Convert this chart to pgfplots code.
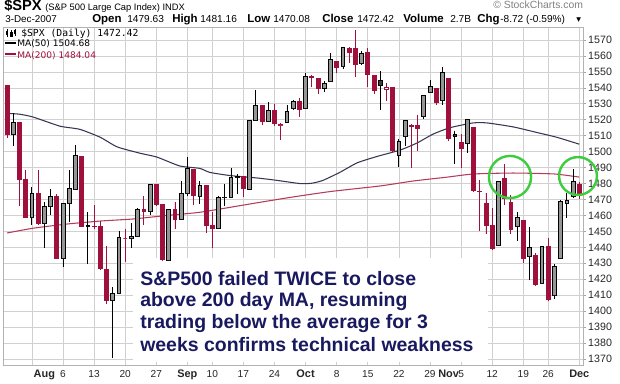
\documentclass[border=0pt]{standalone}
\usepackage{fontspec}
\setmainfont{Liberation Sans}
\newfontfamily\vfont{DejaVu Sans}
\newfontfamily\mfont{DejaVu Sans Mono}
\usepackage{pgfplots}
\usepackage{pgfplotstable}
\usepgfplotslibrary{statistics}
\pgfplotsset{compat=1.18}
\definecolor{cred}{RGB}{160,16,60}
\definecolor{ma50c}{RGB}{55,55,85}
\definecolor{ma200c}{RGB}{180,60,90}
\definecolor{navytext}{RGB}{25,25,95}
\definecolor{gridc}{RGB}{208,208,208}
\definecolor{hollowc}{RGB}{150,150,150}
\definecolor{cgreen}{RGB}{60,205,60}
\newcommand\pxy[2]{({(#1)*0.75pt},{(383-(#2))*0.75pt})}
\pgfplotsset{
 candlebase/.style={line width=0.6pt, boxplot/draw direction=y, boxplot/every median/.style={draw=none}, boxplot/box extend=0.62, boxplot/whisker extend=0},
 candle1/.style={candlebase, draw=black, fill=hollowc},
 candle2/.style={candlebase, draw=black, fill=black!75},
 candle3/.style={candlebase, draw=cred, fill=cred},
 candle4/.style={candlebase, draw=cred, fill=white},
}
% i O H L C S  (S: 1 up hollow, 2 up filled, 3 down filled, 4 down hollow)
\pgfplotstableread{
i O H L C S
0 1541.57 1541.57 1508.62 1511.04 3
1 1511.03 1524.31 1503.73 1518.09 1
2 1518.09 1518.09 1465.81 1482.66 3
3 1482.44 1488.53 1458.95 1458.95 3
4 1458.93 1477.88 1454.32 1473.91 1
5 1473.90 1488.30 1454.25 1455.27 3
6 1455.18 1468.38 1439.59 1465.81 1
7 1465.46 1476.43 1460.58 1472.20 1
8 1472.18 1473.23 1432.80 1433.06 3
9 1433.04 1467.67 1427.39 1467.67 1
10 1467.62 1488.30 1455.80 1476.71 1
11 1476.22 1503.89 1476.22 1497.49 1
12 1497.21 1497.21 1453.09 1453.09 3
13 1453.09 1462.02 1429.74 1453.64 1
14 1453.42 1466.29 1451.54 1452.92 3
15 1452.87 1456.74 1426.20 1426.54 3
16 1426.15 1440.78 1404.36 1406.70 3
17 1406.64 1415.12 1370.60 1411.27 1
18 1411.26 1450.33 1411.26 1445.94 1
19 1445.55 1451.75 1430.54 1445.55 4
20 1445.55 1455.32 1439.76 1447.12 1
21 1447.03 1464.86 1447.03 1464.07 1
22 1464.05 1472.06 1453.88 1462.50 3
23 1462.34 1479.40 1460.54 1479.37 1
24 1479.36 1479.36 1465.98 1466.79 3
25 1466.72 1466.72 1432.01 1432.36 3
26 1432.01 1464.21 1432.01 1463.76 1
27 1463.67 1468.43 1451.25 1457.64 3
28 1457.61 1481.47 1457.61 1473.99 1
29 1473.96 1496.40 1472.15 1489.42 1
30 1488.76 1488.76 1466.34 1472.29 3
31 1472.03 1481.49 1467.41 1478.55 1
32 1478.55 1478.55 1449.07 1453.55 3
33 1453.50 1462.25 1439.29 1451.70 3
34 1451.69 1472.48 1451.69 1471.49 1
35 1471.10 1479.50 1465.75 1471.56 1
36 1471.47 1489.58 1471.47 1483.95 1
37 1483.95 1485.99 1473.18 1484.25 1
38 1484.24 1484.24 1471.82 1476.65 3
39 1476.63 1519.89 1476.63 1519.78 1
40 1519.75 1538.74 1519.75 1529.03 1
41 1528.69 1529.14 1516.42 1518.75 3
42 1518.75 1530.89 1518.75 1525.75 1
43 1525.75 1530.18 1516.15 1517.73 3
44 1516.34 1518.27 1507.13 1517.21 4
45 1518.62 1529.39 1518.62 1525.42 1
46 1527.32 1532.46 1525.81 1531.38 1
47 1531.24 1533.74 1521.99 1526.75 3
48 1527.29 1549.02 1527.25 1547.04 1
49 1546.96 1548.01 1540.37 1546.63 3
50 1545.80 1545.84 1536.34 1539.59 3
51 1539.91 1544.02 1537.63 1542.84 1
52 1543.84 1561.91 1543.84 1557.59 1
53 1556.51 1556.51 1549.00 1552.58 3
54 1553.18 1565.26 1551.82 1565.15 1
55 1564.98 1565.42 1555.46 1562.47 3
56 1564.72 1576.09 1546.72 1554.41 3
57 1555.41 1563.03 1554.09 1561.80 1
58 1562.25 1564.74 1540.81 1548.71 3
59 1547.81 1547.81 1536.29 1538.53 3
60 1544.44 1550.66 1526.01 1541.24 2
61 1539.29 1542.79 1531.76 1540.08 4
62 1540.00 1540.00 1500.26 1500.63 3
63 1497.79 1508.06 1490.40 1506.33 1
64 1509.30 1520.01 1503.61 1519.59 1
65 1516.61 1517.23 1489.56 1515.88 3
66 1516.15 1523.24 1500.46 1514.40 3
67 1522.17 1535.53 1520.18 1535.28 1
68 1536.92 1544.67 1536.92 1540.98 1
69 1539.42 1539.42 1529.55 1531.02 3
70 1532.15 1552.76 1529.40 1549.38 1
71 1545.79 1545.79 1506.66 1508.44 3
72 1511.07 1513.15 1492.53 1509.65 2
73 1505.61 1510.84 1489.95 1502.17 3
74 1505.33 1520.77 1499.07 1520.27 1
75 1515.46 1515.46 1475.04 1475.62 3
76 1475.27 1482.50 1450.31 1474.77 3
77 1467.59 1474.09 1448.51 1453.70 3
78 1453.66 1464.94 1438.53 1439.18 3
79 1441.35 1481.37 1441.35 1481.05 1
80 1483.40 1492.14 1466.47 1470.58 3
81 1468.04 1472.67 1448.59 1451.15 3
82 1453.09 1462.18 1443.99 1458.74 1
83 1456.70 1456.70 1430.42 1433.27 3
84 1434.51 1452.64 1419.28 1439.70 1
85 1434.71 1436.40 1415.64 1416.77 3
86 1417.62 1440.86 1417.62 1440.70 1
87 1440.74 1446.09 1406.10 1407.22 3
88 1409.59 1429.49 1407.43 1428.23 1
89 1432.95 1469.96 1432.95 1469.02 1
90 1467.41 1473.81 1458.36 1469.72 1
91 1471.83 1488.94 1470.89 1481.14 1
92 1479.63 1481.16 1470.08 1472.42 3
}\candles
\begin{document}
\begin{tikzpicture}
\useasboundingbox (0,0) rectangle (465pt,287.25pt);
\begin{axis}[
  at={(2.25pt,13.5pt)}, anchor=south west,
  scale only axis, width=435pt, height=253.5pt,
  xmin=-0.643, xmax=92.6, ymin=1366.24, ymax=1578.15,
  axis line style={gray!60, line width=0.5pt},
  grid=major, grid style={gridc, line width=0.5pt},
  ytick={1370,1380,...,1570},
  ytick pos=right, yticklabel pos=right,
  /pgf/number format/1000 sep={},
  /pgf/number format/assume math mode=true,
  tick align=outside, major tick length=2.2pt,
  ytick style={gray!70, line width=0.5pt},
  yticklabel style={font=\fontsize{8}{9}\selectfont, anchor=west, inner sep=0pt, xshift=1.5pt, text=black!85},
  xtick={4,9,14,19,24,29,33,38,43,48,53,58,63,68,73,78,83,87,92},
  xticklabels={{},6,13,20,27,\textbf{\fontsize{8.2}{9}\selectfont Sep},10,17,24,\textbf{\fontsize{8.2}{9}\selectfont Oct},8,15,22,29,5,12,19,26,\textbf{\fontsize{8.2}{9}\selectfont Dec}},
  extra x ticks={6,71},
  extra x tick labels={\textbf{\fontsize{8.2}{9}\selectfont Aug},\textbf{\fontsize{8.2}{9}\selectfont Nov}},
  extra x tick style={grid=none},
  xtick style={draw=none},
  xticklabel style={font=\fontsize{7.6}{9}\selectfont, anchor=north, inner sep=0pt, yshift=-1.6pt, text=black!85},
]
% white box behind annotation
\fill[white] (20.3,1433.3) rectangle (77.3,1368.3);
% moving averages
\addplot[ma50c, line width=0.8pt, smooth, tension=0.35] coordinates {
(0,1524) (2,1523.5) (4.2,1521.7) (8.5,1516) (11.7,1514) (15,1509) (17.7,1503)
(21.4,1499) (24.1,1496.6) (27.8,1491) (31,1489.5) (32.6,1487) (35.9,1485)
(40.2,1483.5) (43.4,1482) (47.1,1480) (49,1480.2) (50.8,1482) (53.5,1487)
(56.3,1493) (59.5,1497) (63.2,1501) (65.9,1505.4) (68.5,1511) (71.2,1515)
(74.9,1518) (77.2,1518) (81.4,1515.5) (85.2,1512) (88.4,1509) (92,1504.68)};
\addplot[ma200c, line width=0.8pt, smooth, tension=0.35] coordinates {
(0,1449) (4.2,1452) (9.6,1454.6) (15,1456.5) (20.3,1457.8) (25.7,1460)
(31,1462) (38,1466.5) (45,1471) (52,1475) (60,1478.5) (65.3,1481.6)
(70.7,1484) (75,1486) (81.4,1486.6) (88,1486) (92,1484.04)};
% candles
\pgfplotsinvokeforeach{0,...,92}{%
  \pgfplotstablegetelem{#1}{O}\of\candles\let\cO\pgfplotsretval
  \pgfplotstablegetelem{#1}{H}\of\candles\let\cH\pgfplotsretval
  \pgfplotstablegetelem{#1}{L}\of\candles\let\cL\pgfplotsretval
  \pgfplotstablegetelem{#1}{C}\of\candles\let\cC\pgfplotsretval
  \pgfplotstablegetelem{#1}{S}\of\candles\let\cS\pgfplotsretval
  \pgfmathsetmacro\cLo{min(\cO,\cC)}%
  \pgfmathsetmacro\cHi{max(\cO,\cC)}%
  \edef\doplot{\noexpand\addplot[candle\cS, boxplot prepared={draw direction=y, draw position=#1, lower whisker=\cL, lower quartile=\cLo, median=\cLo, upper quartile=\cHi, upper whisker=\cH}] coordinates {};}%
  \doplot
}
\end{axis}
% header
\node[anchor=base west,inner sep=0] at \pxy{4}{10} {\fontsize{11}{12}\selectfont\bfseries\$SPX};
\node[anchor=base west,inner sep=0] at \pxy{45}{10} {\fontsize{7}{8}\selectfont(S\&P 500 Large Cap Index) INDX};
\node[anchor=base west,inner sep=0,text=gray] at \pxy{493}{8.5} {\fontsize{7.8}{8}\selectfont\textcopyright\ StockCharts.com};
\node[anchor=base west,inner sep=0] at \pxy{5}{23} {\fontsize{7.4}{8}\selectfont 3-Dec-2007};
\node[anchor=base west,inner sep=0] at \pxy{92}{23} {\fontsize{8.6}{9}\selectfont\bfseries Open};
\node[anchor=base west,inner sep=0] at \pxy{127}{23} {\fontsize{7.6}{8}\selectfont 1479.63};
\node[anchor=base west,inner sep=0] at \pxy{172}{23} {\fontsize{8.6}{9}\selectfont\bfseries High};
\node[anchor=base west,inner sep=0] at \pxy{200}{23} {\fontsize{7.6}{8}\selectfont 1481.16};
\node[anchor=base west,inner sep=0] at \pxy{247}{23} {\fontsize{8.6}{9}\selectfont\bfseries Low};
\node[anchor=base west,inner sep=0] at \pxy{273}{23} {\fontsize{7.6}{8}\selectfont 1470.08};
\node[anchor=base west,inner sep=0] at \pxy{322}{23} {\fontsize{8.6}{9}\selectfont\bfseries Close};
\node[anchor=base west,inner sep=0] at \pxy{357}{23} {\fontsize{7.6}{8}\selectfont 1472.42};
\node[anchor=base west,inner sep=0] at \pxy{403}{23} {\fontsize{8.6}{9}\selectfont\bfseries Volume};
\node[anchor=base west,inner sep=0] at \pxy{450}{23} {\fontsize{7.6}{8}\selectfont 2.7B};
\node[anchor=base west,inner sep=0] at \pxy{477}{23} {\fontsize{8.6}{9}\selectfont\bfseries Chg};
\node[anchor=base west,inner sep=0] at \pxy{500}{23} {\fontsize{7.6}{8}\selectfont -8.72 (-0.59\%)};
\node[anchor=base west,inner sep=0] at \pxy{576}{23} {\vfont\fontsize{7}{8}\selectfont ▾};
% legend inside plot
\draw[black, line width=0.6pt] \pxy{7}{29.5} -- \pxy{7}{37};
\fill[black] \pxy{6}{31} rectangle \pxy{8}{35};
\draw[black, line width=0.6pt] \pxy{11}{30} -- \pxy{11}{37};
\draw[black, line width=0.5pt] \pxy{10}{32} rectangle \pxy{12}{36};
\draw[black, line width=0.6pt] \pxy{15}{29.5} -- \pxy{15}{36};
\fill[black] \pxy{14}{30.5} rectangle \pxy{16}{34};
\node[anchor=base west,inner sep=0] at \pxy{21}{36} {\mfont\fontsize{7.3}{8}\selectfont\$SPX (Daily) 1472.42};
\draw[black, line width=0.8pt] \pxy{5}{43} -- \pxy{16}{43};
\node[anchor=base west,inner sep=0] at \pxy{17}{47} {\vfont\fontsize{6.8}{8}\selectfont MA(50) 1504.68};
\draw[cred, line width=0.8pt] \pxy{5}{54} -- \pxy{16}{54};
\node[anchor=base west,inner sep=0,text=cred] at \pxy{17}{58} {\vfont\fontsize{6.8}{8}\selectfont MA(200) 1484.04};
% annotation
\foreach \t/\b in {{S\&P500 failed TWICE to close}/285, {above 200 day MA, resuming}/306.5, {trading below the average for 3}/328.5, {weeks confirms technical weakness}/351}{
  \node[anchor=base west,inner sep=0,text=navytext] at \pxy{140}{\b} {\fontsize{14.6}{16}\selectfont\bfseries \t};
}
% circles
\draw[cgreen, line width=1.8pt] \pxy{510}{177} circle[radius=15.8pt];
\draw[cgreen, line width=1.8pt] \pxy{578}{176} circle[radius=14.2pt];
\end{tikzpicture}
\end{document}
